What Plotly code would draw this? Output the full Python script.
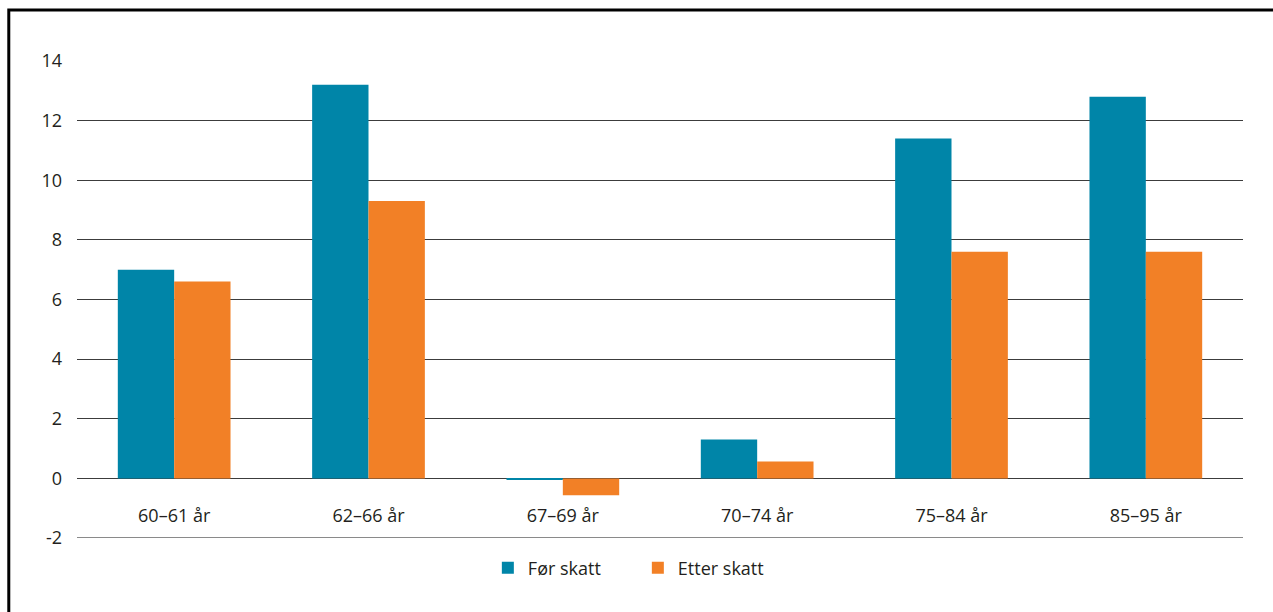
import plotly.graph_objects as go

categories = ["60–61 år", "62–66 år", "67–69 år", "70–74 år", "75–84 år", "85–95 år"]
for_skatt = [7.0, 13.2, -0.05, 1.3, 11.4, 12.8]
etter_skatt = [6.6, 9.3, -0.57, 0.57, 7.6, 7.6]
series_names = ["Før skatt", "Etter skatt"]
y_ticks = [-2, 0, 2, 4, 6, 8, 10, 12, 14]
y_tick_labels = ["-2", "0", "2", "4", "6", "8", "10", "12", "14"]

FONT = "Open Sans"
TEAL = "#0085A8"
ORANGE = "#F28026"

fig = go.Figure()
fig.add_trace(go.Bar(x=categories, y=for_skatt, name=series_names[0],
                     marker=dict(color=TEAL, line=dict(width=0))))
fig.add_trace(go.Bar(x=categories, y=etter_skatt, name=series_names[1],
                     marker=dict(color=ORANGE, line=dict(width=0))))

y_min, y_max = -2, 14
zero_pos = (0 - y_min) / (y_max - y_min)

fig.update_layout(
    width=1273, height=612,
    margin=dict(l=77, r=30, t=61, b=74),
    paper_bgcolor="white", plot_bgcolor="white",
    barmode="group", bargap=0.42, bargroupgap=0,
    font=dict(family=FONT, size=18, color="#231f20"),
    showlegend=True,
    legend=dict(orientation="h", x=0.481, xanchor="center", y=-0.063, yanchor="middle",
                font=dict(size=18), entrywidth=105,
                traceorder="normal"),
    xaxis=dict(type="category", anchor="free", position=zero_pos,
               showgrid=False, showline=False, zeroline=False,
               ticks="", ticklabelstandoff=25, tickfont=dict(size=18)),
    yaxis=dict(range=[y_min, y_max], tickvals=y_ticks, ticktext=y_tick_labels,
               showgrid=True,
               gridcolor="#3c3c3c", gridwidth=1, zeroline=True,
               zerolinecolor="#3c3c3c", zerolinewidth=1, showline=False,
               ticks="", ticklabelstandoff=14, tickfont=dict(size=18)),
    shapes=[
        dict(type="line", xref="paper", yref="y", x0=0, x1=1, y0=-2, y1=-2,
             line=dict(color="#8a8a8a", width=2), layer="above"),
        dict(type="rect", xref="paper", yref="paper", x0=-0.0585, x1=1.2,
             y0=-0.4, y1=1.107, line=dict(color="black", width=3),
             fillcolor="rgba(0,0,0,0)", layer="above"),
    ],
)

fig.write_html(
    "out.html",
    config={"displayModeBar": False},
    post_script="document.body.style.margin='0';document.body.style.overflow='hidden';",
)
